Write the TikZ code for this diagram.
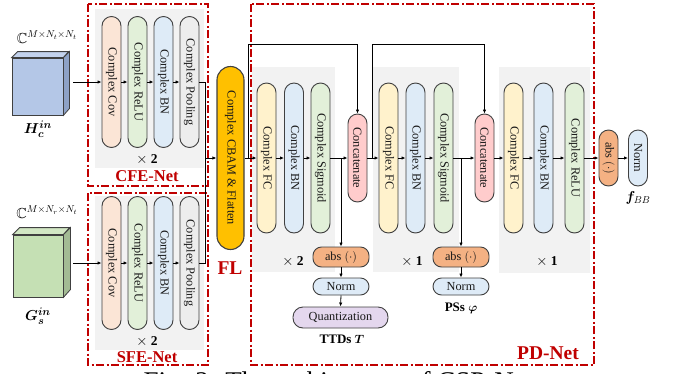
\documentclass[tikz,border=0pt]{standalone}
\usepackage{fontspec}
\setmainfont{Liberation Serif}
\usepackage{amssymb}
\usepackage{bm}
\usepackage{graphicx}
\usetikzlibrary{arrows.meta,calc}
\definecolor{cred}{HTML}{C00000}
\definecolor{cgray}{HTML}{F2F2F2}
\definecolor{ccov}{HTML}{FBE5D6}
\definecolor{cgreen}{HTML}{E2F0D9}
\definecolor{cblue}{HTML}{DEEBF7}
\definecolor{cpool}{HTML}{EDEDED}
\definecolor{cyellow}{HTML}{FFF2CC}
\definecolor{cpink}{HTML}{FFCCCC}
\definecolor{cabs}{HTML}{F4B183}
\definecolor{cquant}{HTML}{E4D7EE}
\definecolor{ccbam}{HTML}{FFC000}
\definecolor{hfront}{HTML}{B4C7E7}
\definecolor{htop}{HTML}{C3D2EC}
\definecolor{hside}{HTML}{8EA2C6}
\definecolor{gfront}{HTML}{C5E0B4}
\definecolor{gtop}{HTML}{D2E7C4}
\definecolor{gside}{HTML}{A3BB94}
\definecolor{cedge}{HTML}{404040}
\begin{document}
\begin{tikzpicture}[x=1pt,y=-1pt,
  pill/.style={draw=cedge, line width=0.9pt, rounded corners=9.5pt, minimum width=19pt, inner sep=0pt, text=black!90, font=\fontsize{12.3}{12.3}\selectfont},
  hpill/.style={draw=cedge, line width=0.9pt, rounded corners=8.5pt, inner sep=0pt, text=black!90, font=\fontsize{12.3}{12.3}\selectfont},
  ar/.style={-{Latex[length=4pt,width=3.4pt]}, line width=0.8pt},
  ln/.style={line width=0.8pt},
  rdbox/.style={draw=cred, line width=1.2pt, dash pattern=on 8pt off 2.5pt on 2pt off 2.5pt},
  bg/.style={fill=cgray},
  netlbl/.style={text=cred, font=\bfseries\fontsize{16.5}{16.5}\selectfont},
  biglbl/.style={text=cred, font=\bfseries\fontsize{19.5}{19.5}\selectfont},
  times/.style={font=\fontsize{13.5}{13.5}\selectfont},
  cube/.style={draw=cedge, line width=0.8pt, inner sep=0pt}
]
\useasboundingbox (0,0) rectangle (673,373);

% caption (cut off)
\begin{scope}
\clip (0,0) rectangle (673,373);
\node[anchor=base west, font=\fontsize{27}{27}\selectfont] (cap) at (140,390) {Fig. 2: The architecture of CSP-Net};
\end{scope}

% red dashed boxes
\draw[rdbox] (88,4) rectangle (208,186);
\draw[rdbox] (88,193) rectangle (208,365);
\draw[rdbox] (251,4) rectangle (594,365);

% gray backgrounds
\fill[bg] (95,9) rectangle (204,168);
\fill[bg] (95,196) rectangle (204,350);
\fill[bg] (252,67) rectangle (335,272);
\fill[bg] (373,67) rectangle (459,272);
\fill[bg] (499,67) rectangle (590,273);

% cubes
\node[cube, fill=hfront, minimum width=51pt, minimum height=57pt] (hc) at (37.5,86.5) {};
\filldraw[cube, fill=htop] (hc.north west) -- ++(6,-6) -- ++(51,0) -- (hc.north east) -- cycle;
\filldraw[cube, fill=hside] (hc.north east) -- ++(6,-6) -- ++(0,57) -- (hc.south east) -- cycle;
\node[cube, fill=gfront, minimum width=50pt, minimum height=62pt] (gs) at (38,266) {};
\filldraw[cube, fill=gtop] (gs.north west) -- ++(7,-7) -- ++(50,0) -- (gs.north east) -- cycle;
\filldraw[cube, fill=gside] (gs.north east) -- ++(7,-7) -- ++(0,62) -- (gs.south east) -- cycle;
\node[font=\fontsize{14.5}{14.5}\selectfont] (hdim) at (47,37) {$\mathbb{C}^{M\times N_t\times N_t}$};
\node[font=\fontsize{14.5}{14.5}\selectfont] (gdim) at (47,212) {$\mathbb{C}^{M\times N_r\times N_t}$};
\node[font=\fontsize{15}{15}\selectfont] (hlbl) at (38,129) {$\bm{H_c^{in}}$};
\node[font=\fontsize{15}{15}\selectfont] (glbl) at (38,316) {$\bm{G_s^{in}}$};
\coordinate (hout) at (73,82);
\coordinate (gout) at (73,263);

% CFE pills
\node[pill, fill=ccov,  minimum height=131pt] (cov1)  at (111.5,82) {\rotatebox{-90}{Complex Cov}};
\node[pill, fill=cgreen,minimum height=131pt] (relu1) at (137.5,82) {\rotatebox{-90}{Complex ReLU}};
\node[pill, fill=cblue, minimum height=131pt] (bn1)   at (163.5,82) {\rotatebox{-90}{Complex BN}};
\node[pill, fill=cpool, minimum height=131pt] (pool1) at (189.5,82) {\rotatebox{-90}{Complex Pooling}};
\node[times] (x2a) at (147,160) {$\times$ \textbf{2}};
\node[netlbl] (cfe) at (147,176) {CFE-Net};

% SFE pills
\node[pill, fill=ccov,  minimum height=133pt] (cov2)  at (111.5,263) {\rotatebox{-90}{Complex Cov}};
\node[pill, fill=cgreen,minimum height=133pt] (relu2) at (137.5,263) {\rotatebox{-90}{Complex ReLU}};
\node[pill, fill=cblue, minimum height=133pt] (bn2)   at (163.5,263) {\rotatebox{-90}{Complex BN}};
\node[pill, fill=cpool, minimum height=133pt] (pool2) at (189.5,263) {\rotatebox{-90}{Complex Pooling}};
\node[times] (x2b) at (147,342) {$\times$ \textbf{2}};
\node[netlbl] (sfe) at (147,357) {SFE-Net};

% CBAM
\node[pill, fill=ccbam, line width=1.1pt, rounded corners=13.5pt, minimum width=27pt, minimum height=183pt] (cbam) at (230.5,158) {\rotatebox{-90}{Complex CBAM \& Flatten}};
\node[biglbl] (fl) at (230,268) {FL};

% PD block 1
\node[pill, fill=cyellow, minimum height=150pt] (fc1)  at (266.5,158) {\rotatebox{-90}{Complex FC}};
\node[pill, fill=cblue,   minimum height=150pt] (pbn1) at (294,158) {\rotatebox{-90}{Complex BN}};
\node[pill, fill=cgreen,  minimum height=150pt] (sig1) at (320.5,158) {\rotatebox{-90}{Complex Sigmoid}};
\node[pill, fill=cpink,   minimum height=88pt]  (cat1) at (357.5,158) {\rotatebox{-90}{Concatenate}};
\node[times] (x2c) at (293,262) {$\times$ \textbf{2}};
\node[hpill, fill=cabs,  minimum width=56pt, minimum height=20pt] (abs1) at (341,257) {abs $(\cdot)$};
\node[hpill, fill=cblue, minimum width=56pt, minimum height=17pt] (nrm1) at (341,286.5) {Norm};
\node[hpill, fill=cquant, rounded corners=10pt, minimum width=95pt, minimum height=21pt] (quant) at (340.5,317.5) {Quantization};
\node[font=\bfseries\fontsize{13}{13}\selectfont] (ttd) at (342,339) {TTDs $\bm{T}$};

% PD block 2
\node[pill, fill=cyellow, minimum height=150pt] (fc2)  at (388.5,158) {\rotatebox{-90}{Complex FC}};
\node[pill, fill=cblue,   minimum height=150pt] (pbn2) at (415.5,158) {\rotatebox{-90}{Complex BN}};
\node[pill, fill=cgreen,  minimum height=150pt] (sig2) at (443.5,158) {\rotatebox{-90}{Complex Sigmoid}};
\node[pill, fill=cpink,   minimum height=88pt]  (cat2) at (484.5,158) {\rotatebox{-90}{Concatenate}};
\node[times] (x1a) at (412,262) {$\times$ \textbf{1}};
\node[hpill, fill=cabs,  minimum width=56pt, minimum height=20pt] (abs2) at (461,257) {abs $(\cdot)$};
\node[hpill, fill=cblue, minimum width=56pt, minimum height=17pt] (nrm2) at (461,286.5) {Norm};
\node[font=\bfseries\fontsize{13}{13}\selectfont] (pss) at (461,308) {PSs $\bm{\varphi}$};

% PD block 3
\node[pill, fill=cyellow, minimum height=150pt] (fc3)   at (513.5,158) {\rotatebox{-90}{Complex FC}};
\node[pill, fill=cblue,   minimum height=150pt] (pbn3)  at (543.5,158) {\rotatebox{-90}{Complex BN}};
\node[pill, fill=cgreen,  minimum height=150pt] (relu3) at (574.5,158) {\rotatebox{-90}{Complex ReLU}};
\node[times] (x1b) at (547,262) {$\times$ \textbf{1}};
\node[biglbl] (pdnet) at (548,353) {PD-Net};

% output
\node[pill, fill=cabs,  minimum height=56pt] (absr) at (608.5,158) {\rotatebox{-90}{abs $(\cdot)$}};
\node[pill, fill=cblue, minimum height=56pt] (nrmr) at (638,158) {\rotatebox{-90}{Norm}};
\node[font=\fontsize{14}{14}\selectfont] (fbb) at (638,198) {$\bm{f}_{BB}$};

% connectors
\draw[ar] (hout) -- (cov1.west);
\draw[ar] (cov1.east) -- (relu1.west);
\draw[ar] (relu1.east) -- (bn1.west);
\draw[ar] (bn1.east) -- (pool1.west);
\draw[ar] (gout) -- (cov2.west);
\draw[ar] (cov2.east) -- (relu2.west);
\draw[ar] (relu2.east) -- (bn2.west);
\draw[ar] (bn2.east) -- (pool2.west);
\coordinate (mj) at (205,158);
\draw[ln] (pool1.east) -| (mj);
\draw[ln] (pool2.east) -| (mj);
\draw[ar] (mj) -- (cbam.west);
\draw[ar] (cbam.east) -- (fc1.west);
\coordinate (s1) at (248,158);
\coordinate (s1t) at (248,44);
\draw[ar] (s1) -- (s1t) -| (cat1.north);
\draw[ar] (fc1.east) -- (pbn1.west);
\draw[ar] (pbn1.east) -- (sig1.west);
\draw[ar] (sig1.east) -- (cat1.west);
\coordinate (b1) at (341,158);
\draw[ar] (b1) -- (abs1.north);
\draw[ar] (abs1.south) -- (nrm1.north);
\draw[ar] (nrm1.south) -- (quant.north);
\draw[ar] (cat1.east) -- (fc2.west);
\coordinate (s2) at (372,158);
\coordinate (s2t) at (372,44);
\draw[ar] (s2) -- (s2t) -| (cat2.north);
\draw[ar] (fc2.east) -- (pbn2.west);
\draw[ar] (pbn2.east) -- (sig2.west);
\draw[ar] (sig2.east) -- (cat2.west);
\coordinate (b2) at (461,158);
\draw[ar] (b2) -- (abs2.north);
\draw[ar] (abs2.south) -- (nrm2.north);
\draw[ar] (cat2.east) -- (fc3.west);
\draw[ar] (fc3.east) -- (pbn3.west);
\draw[ar] (pbn3.east) -- (relu3.west);
\draw[ar] (relu3.east) -- (absr.west);
\draw[ar] (absr.east) -- (nrmr.west);
\end{tikzpicture}
\end{document}
